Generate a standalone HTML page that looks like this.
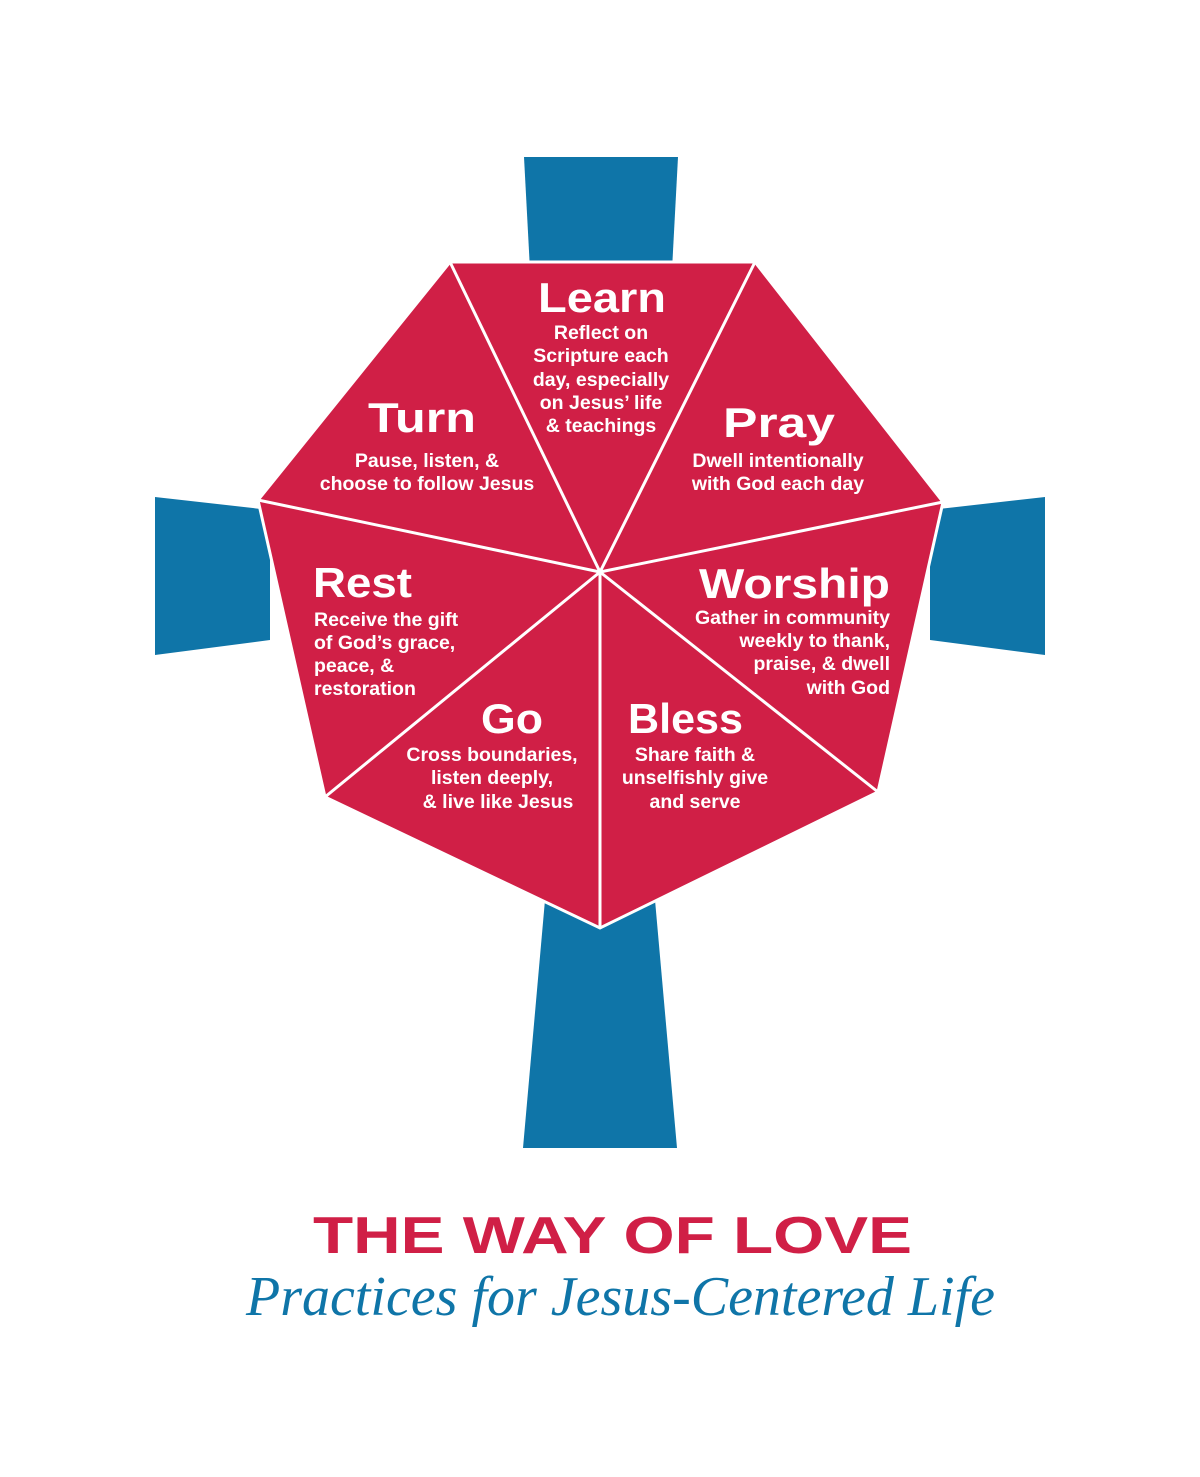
<!DOCTYPE html>
<html><head><style>html,body{margin:0;padding:0;background:#fff}svg{display:block}</style></head>
<body>
<svg width="1200" height="1477" viewBox="0 0 1200 1477" xmlns="http://www.w3.org/2000/svg">
<g fill="#0f75a8">
<path d="M524,157 L678,157 L672,270 L530,270 Z"/>
<path d="M155,497 L270,510 L270,640 L155,655 Z"/>
<path d="M1045,497 L930,510 L930,640 L1045,655 Z"/>
<path d="M545,900 L655,900 L677,1148 L523,1148 Z"/>
</g>
<g stroke="#fff" stroke-width="3" fill="#d01f46" stroke-linejoin="miter">
<polygon points="450,262 755,262 943,502 878,792 600,928 325,797 258,500"/>
<path d="M600,572 L450,262 M600,572 L755,262 M600,572 L943,502 M600,572 L878,792 M600,572 L600,928 M600,572 L325,797 M600,572 L258,500" fill="none"/>
</g>
<g fill="#fff" font-family="Liberation Sans, sans-serif" font-weight="bold" font-size="42" lengthAdjust="spacingAndGlyphs">
<text x="538" y="312" textLength="128" lengthAdjust="spacingAndGlyphs">Learn</text>
<text x="368" y="432" textLength="108" lengthAdjust="spacingAndGlyphs">Turn</text>
<text x="723" y="437" textLength="112" lengthAdjust="spacingAndGlyphs">Pray</text>
<text x="481" y="733" textLength="62" lengthAdjust="spacingAndGlyphs">Go</text>
<text x="313" y="597" textLength="99" lengthAdjust="spacingAndGlyphs">Rest</text>
<text x="699" y="598" textLength="191" lengthAdjust="spacingAndGlyphs">Worship</text>
<text x="628" y="733" textLength="115" lengthAdjust="spacingAndGlyphs">Bless</text>
</g>
<g fill="#fff" font-family="Liberation Sans, sans-serif" font-weight="bold">
<g font-size="19.5" text-anchor="middle">
<text x="601" y="339">Reflect on</text>
<text x="601" y="362">Scripture each</text>
<text x="601" y="386">day, especially</text>
<text x="601" y="409">on Jesus’ life</text>
<text x="601" y="432">&amp; teachings</text>
<text x="427" y="467">Pause, listen, &amp;</text>
<text x="427" y="490">choose to follow Jesus</text>
<text x="778" y="467">Dwell intentionally</text>
<text x="778" y="490">with God each day</text>
<text x="492" y="761">Cross boundaries,</text>
<text x="492" y="784">listen deeply,</text>
<text x="498" y="808">&amp; live like Jesus</text>
<text x="695" y="761">Share faith &amp;</text>
<text x="695" y="784">unselfishly give</text>
<text x="695" y="808">and serve</text>
</g>
<g font-size="19.5">
<text x="314" y="626">Receive the gift</text>
<text x="314" y="649">of God’s grace,</text>
<text x="314" y="672">peace, &amp;</text>
<text x="314" y="695">restoration</text>
</g>
<g font-size="19.5" text-anchor="end">
<text x="890" y="624">Gather in community</text>
<text x="890" y="647">weekly to thank,</text>
<text x="890" y="670">praise, &amp; dwell</text>
<text x="890" y="694">with God</text>
</g>
</g>
<text x="313" y="1253" font-family="Liberation Sans, sans-serif" font-weight="bold" font-size="52" fill="#d01f46" textLength="599" lengthAdjust="spacingAndGlyphs">THE WAY OF LOVE</text>
<text x="246" y="1315" font-family="Liberation Serif, serif" font-style="italic" font-size="56" fill="#0f75a8" textLength="749" lengthAdjust="spacingAndGlyphs">Practices for Jesus-Centered Life</text>
</svg>
</body></html>
